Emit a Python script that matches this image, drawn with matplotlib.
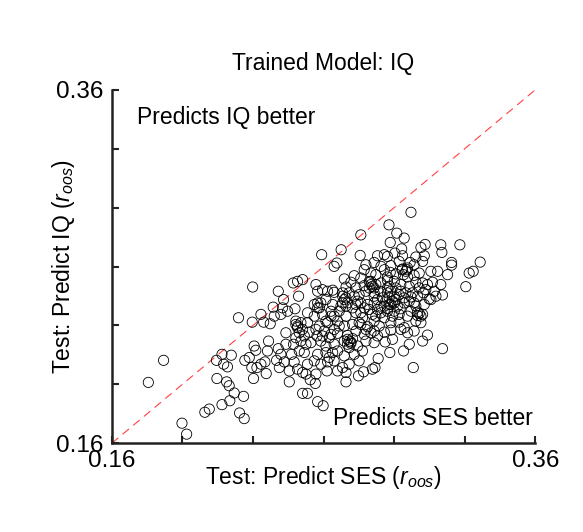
import numpy as np
import matplotlib
matplotlib.use("Agg")
import matplotlib.pyplot as plt

plt.rcParams['font.family'] = ['Liberation Sans', 'DejaVu Sans']
plt.rcParams['mathtext.fontset'] = 'custom'
plt.rcParams['mathtext.rm'] = 'Liberation Sans'
plt.rcParams['mathtext.it'] = 'Liberation Sans:italic'

# out-of-sample r (top to bottom)
ses_r = [
    0.3013, 0.2909, 0.2776, 0.2946, 0.2981,
    0.2915, 0.3080, 0.3154, 0.3244, 0.2683, 0.2969, 0.3060,
    0.2591, 0.2773, 0.2855, 0.2887, 0.2937, 0.3159, 0.3036, 0.3076, 0.2973, 0.2902,
    0.2650, 0.2663, 0.2800, 0.2839, 0.2871, 0.3205, 0.3205, 0.3340, 0.2957, 0.3009,
    0.3028, 0.3068, 0.2994, 0.2973, 0.2792, 0.2887, 0.2918,
    0.2698, 0.2776, 0.2824, 0.2847, 0.2915, 0.2942, 0.2997, 0.3028, 0.3052, 0.3107,
    0.3139, 0.3186, 0.3288, 0.3307, 0.2501, 0.2902, 0.2745, 0.2970,
    0.2457, 0.2477, 0.2564, 0.2595, 0.2643, 0.2706, 0.2753, 0.2792, 0.2824, 0.2839,
    0.2871, 0.2910, 0.2934, 0.2965, 0.3005, 0.3036, 0.3068, 0.3091, 0.3115, 0.3154,
    0.3272, 0.2265, 0.2729, 0.2816, 0.2902,
    0.2386, 0.2411, 0.2482, 0.2572, 0.2619, 0.2650, 0.2611, 0.2690, 0.2721, 0.2768,
    0.2800, 0.2839, 0.2868, 0.2902, 0.2934, 0.2957, 0.2989, 0.3013, 0.3044, 0.3072,
    0.3123, 0.3162, 0.3099, 0.3131, 0.2690, 0.2902,
    0.2362, 0.2406, 0.2465, 0.2556, 0.2587, 0.2572, 0.2682, 0.2713, 0.2761, 0.2808,
    0.2839, 0.2871, 0.2910, 0.2926, 0.2950, 0.2981, 0.3005, 0.3036, 0.3076, 0.3107,
    0.2643, 0.2737, 0.2855, 0.2902, 0.2962,
    0.2198, 0.2304, 0.2398, 0.2430, 0.2524, 0.2556, 0.2595, 0.2650, 0.2674, 0.2706,
    0.2753, 0.2784, 0.2831, 0.2871, 0.2887, 0.2926, 0.2957, 0.2997, 0.3044, 0.3068,
    0.3013, 0.2934, 0.2847, 0.2635, 0.2367,
    0.2263, 0.2317, 0.2348, 0.2469, 0.2501, 0.2524, 0.2580, 0.2619, 0.2666, 0.2698,
    0.2737, 0.2768, 0.2808, 0.2839, 0.2863, 0.2918, 0.2957, 0.2981, 0.3060, 0.3036,
    0.2477, 0.2469,
    0.2422, 0.2485, 0.2532, 0.2569, 0.2603, 0.2635, 0.2666, 0.2713, 0.2753, 0.2792,
    0.2824, 0.2855, 0.2887, 0.2918, 0.2965, 0.2997, 0.3028, 0.3091, 0.2469, 0.2509,
    0.2340, 0.2386, 0.2458, 0.2517, 0.2540, 0.2587, 0.2611, 0.2650, 0.2698, 0.2713,
    0.2729, 0.2761, 0.2800, 0.2839, 0.2891, 0.2926, 0.3005, 0.3068, 0.3162, 0.2272,
    0.2422, 0.2493, 0.2721,
    0.2280, 0.2335, 0.2398, 0.2449, 0.2485, 0.2509, 0.2572, 0.2611, 0.2643, 0.2666,
    0.2698, 0.2745, 0.2784, 0.2858, 0.2913, 0.2978, 0.2120, 0.2164, 0.2627,
    0.2228, 0.2249, 0.2094, 0.2128, 0.2146, 0.2261, 0.2285, 0.2304, 0.2323, 0.2378,
    0.2391, 0.2414, 0.2461, 0.2477, 0.2524, 0.2556, 0.2587, 0.2619, 0.2650, 0.2690,
    0.2721, 0.2768, 0.2831, 0.3024, 0.1844,
    0.2329, 0.2438, 0.2501, 0.2517, 0.2564, 0.2616, 0.2666, 0.2706, 0.2789, 0.2765,
    0.2843, 0.2096, 0.2269, 0.2537,
    0.1772, 0.2142, 0.2154, 0.2438, 0.2561, 0.2706,
    0.2178, 0.2222, 0.2501, 0.2524, 0.2157, 0.2120, 0.2572, 0.2598,
    0.2039, 0.2060, 0.2203, 0.2225, 0.1931, 0.1953,
    # dense core
    0.2894, 0.2910, 0.2918, 0.2934, 0.2887, 0.2902, 0.2879, 0.2942, 0.2831, 0.2816,
    0.2847, 0.2824, 0.2721, 0.2729, 0.2737, 0.2713, 0.3052, 0.3060, 0.3044, 0.2989,
    0.2978, 0.2997, 0.2698, 0.2706, 0.2572, 0.2580, 0.2477, 0.2493, 0.2690, 0.2706,
    0.2776, 0.2792, 0.2776, 0.2816, 0.2965, 0.2981, 0.2942, 0.2918, 0.2839, 0.2855,
    0.2745, 0.2753, 0.2776, 0.2800, 0.2839, 0.2650, 0.2674, 0.2627, 0.2595, 0.2564,
    0.2611, 0.2635, 0.3028, 0.3020, 0.3052, 0.3083,
]

iq_r = [
    0.2907, 0.2836, 0.2779, 0.2789, 0.2761,
    0.2736, 0.2725, 0.2723, 0.2723, 0.2695, 0.2700, 0.2708,
    0.2667, 0.2663, 0.2661, 0.2667, 0.2676, 0.2680, 0.2654, 0.2661, 0.2661, 0.2657,
    0.2601, 0.2620, 0.2610, 0.2623, 0.2601, 0.2623, 0.2608, 0.2625, 0.2629, 0.2623,
    0.2610, 0.2629, 0.2582, 0.2586, 0.2582, 0.2582, 0.2605,
    0.2530, 0.2535, 0.2563, 0.2554, 0.2567, 0.2558, 0.2541, 0.2550, 0.2563, 0.2573,
    0.2573, 0.2554, 0.2563, 0.2573, 0.2526, 0.2541, 0.2548, 0.2582,
    0.2507, 0.2516, 0.2498, 0.2469, 0.2466, 0.2484, 0.2479, 0.2492, 0.2498, 0.2479,
    0.2507, 0.2488, 0.2516, 0.2498, 0.2488, 0.2511, 0.2507, 0.2498, 0.2511, 0.2498,
    0.2486, 0.2484, 0.2511, 0.2516, 0.2522,
    0.2460, 0.2413, 0.2432, 0.2460, 0.2460, 0.2454, 0.2413, 0.2432, 0.2451, 0.2441,
    0.2460, 0.2432, 0.2460, 0.2451, 0.2432, 0.2441, 0.2451, 0.2428, 0.2432, 0.2451,
    0.2460, 0.2439, 0.2417, 0.2432, 0.2451, 0.2479,
    0.2370, 0.2366, 0.2361, 0.2385, 0.2394, 0.2366, 0.2376, 0.2394, 0.2404, 0.2385,
    0.2394, 0.2376, 0.2385, 0.2404, 0.2376, 0.2394, 0.2404, 0.2376, 0.2385, 0.2413,
    0.2385, 0.2366, 0.2357, 0.2361, 0.2361,
    0.2310, 0.2329, 0.2329, 0.2347, 0.2338, 0.2319, 0.2329, 0.2319, 0.2347, 0.2319,
    0.2338, 0.2310, 0.2329, 0.2338, 0.2310, 0.2319, 0.2329, 0.2319, 0.2323, 0.2329,
    0.2347, 0.2347, 0.2319, 0.2347, 0.2319,
    0.2285, 0.2285, 0.2276, 0.2272, 0.2244, 0.2282, 0.2263, 0.2282, 0.2291, 0.2263,
    0.2272, 0.2282, 0.2259, 0.2291, 0.2263, 0.2282, 0.2285, 0.2254, 0.2282, 0.2291,
    0.2254, 0.2291,
    0.2225, 0.2225, 0.2229, 0.2207, 0.2235, 0.2216, 0.2222, 0.2210, 0.2235, 0.2216,
    0.2225, 0.2207, 0.2229, 0.2240, 0.2244, 0.2225, 0.2235, 0.2212, 0.2197, 0.2207,
    0.2178, 0.2135, 0.2160, 0.2160, 0.2169, 0.2178, 0.2150, 0.2160, 0.2178, 0.2160,
    0.2173, 0.2150, 0.2178, 0.2169, 0.2173, 0.2188, 0.2160, 0.2178, 0.2135, 0.2150,
    0.2160, 0.2178, 0.2141,
    0.2126, 0.2122, 0.2103, 0.2103, 0.2122, 0.2113, 0.2103, 0.2113, 0.2113, 0.2122,
    0.2094, 0.2103, 0.2122, 0.2079, 0.2113, 0.2122, 0.2103, 0.2098, 0.2085,
    0.2069, 0.2085, 0.2069, 0.2047, 0.2032, 0.2028, 0.2028, 0.2047, 0.2060, 0.2069,
    0.2028, 0.2060, 0.2060, 0.2019, 0.2047, 0.2066, 0.2047, 0.2060, 0.2066, 0.2028,
    0.2047, 0.2066, 0.2019, 0.2028, 0.2069,
    0.1994, 0.2009, 0.2000, 0.1991, 0.1991, 0.2009, 0.2009, 0.2000, 0.2004, 0.1981,
    0.2028, 0.1966, 0.1966, 0.1959,
    0.1944, 0.1947, 0.1925, 0.1947, 0.1938, 0.1947,
    0.1884, 0.1865, 0.1882, 0.1882, 0.1840, 0.1818, 0.1835, 0.1812,
    0.1775, 0.1793, 0.1771, 0.1739, 0.1713, 0.1651,
    # dense core
    0.2404, 0.2423, 0.2385, 0.2394, 0.2376, 0.2347, 0.2423, 0.2413, 0.2488, 0.2479,
    0.2498, 0.2516, 0.2178, 0.2165, 0.2192, 0.2188, 0.2334, 0.2319, 0.2342, 0.2573,
    0.2554, 0.2592, 0.2413, 0.2376, 0.2394, 0.2366, 0.2263, 0.2282, 0.2394, 0.2423,
    0.2394, 0.2366, 0.2338, 0.2357, 0.2460, 0.2423, 0.2479, 0.2460, 0.2451, 0.2413,
    0.2432, 0.2385, 0.2272, 0.2244, 0.2235, 0.2244, 0.2263, 0.2197, 0.2207, 0.2244,
    0.2291, 0.2319, 0.2394, 0.2451, 0.2479, 0.2469,
]

lims = [0.16, 0.36]
tick_vals = np.linspace(0.16, 0.36, 7)
tick_labels = ['0.16', '', '', '', '', '', '0.36']

fig = plt.figure(figsize=(5.83, 5.32), dpi=100)
ax = fig.add_axes([0.192, 0.167, 0.726, 0.664])

ax.plot(lims, lims, color='#ff4040', linestyle=(0, (7.5, 5)), linewidth=0.8, zorder=1)
ax.scatter(ses_r, iq_r, s=54, facecolors='none', edgecolors='black',
           linewidths=0.6, zorder=2)

ax.set_xlim(lims)
ax.set_ylim(lims)
ax.set_xticks(tick_vals)
ax.set_yticks(tick_vals)
ax.set_xticklabels(tick_labels)
ax.set_yticklabels(tick_labels)
ax.tick_params(direction='in', length=5, width=1.5, labelsize=17.5, color='#222222')
ax.tick_params(axis='x', pad=5)
ax.tick_params(axis='y', pad=6)

for side in ['top', 'right']:
    ax.spines[side].set_visible(False)
for side in ['left', 'bottom']:
    ax.spines[side].set_linewidth(1.8)
    ax.spines[side].set_color('#222222')

ax.set_xlabel(r'Test: Predict SES ($r_{oos}$)', fontsize=16.5)
ax.set_ylabel(r'Test: Predict IQ ($r_{oos}$)', fontsize=16.5)
ax.xaxis.set_label_coords(0.5, -0.06)
ax.yaxis.set_label_coords(-0.082, 0.5)
ax.set_title('Trained Model: IQ', fontsize=16.5, pad=14)

ax.text(0.059, 0.921, 'Predicts IQ better', transform=ax.transAxes,
        fontsize=16.5, ha='left', va='center')
ax.text(0.995, 0.071, 'Predicts SES better', transform=ax.transAxes,
        fontsize=16.5, ha='right', va='center')

fig.savefig('out.png', dpi=100)
